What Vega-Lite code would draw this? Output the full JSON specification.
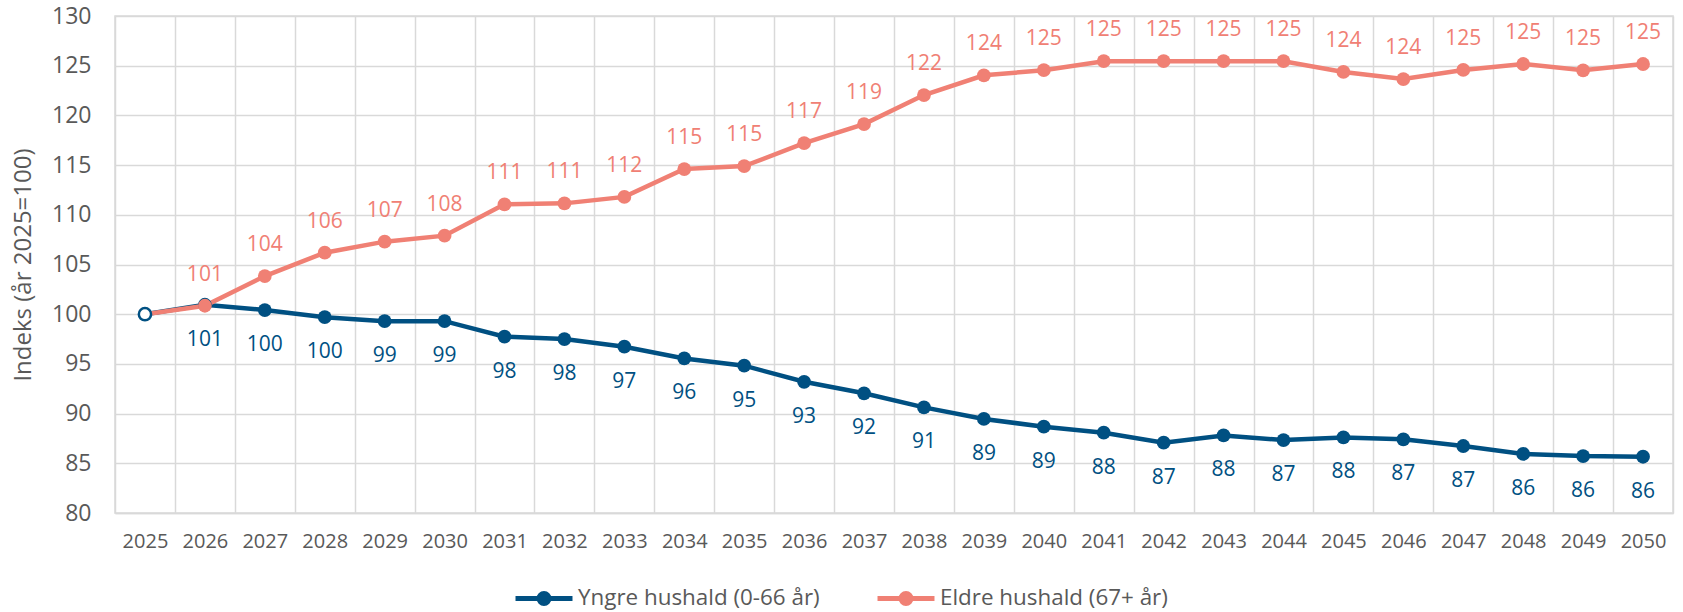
{
  "$schema": "https://vega.github.io/schema/vega-lite/v6.json",
  "width": 1558,
  "height": 497,
  "autosize": {"type": "none"},
  "padding": {"left": 115, "top": 16, "right": 10, "bottom": 99},
  "background": "white",
  "config": {
    "font": "Open Sans",
    "view": {"stroke": "#d9d9d9", "strokeWidth": 1.5},
    "axis": {"labelColor": "#595959", "titleColor": "#595959", "gridColor": "#d9d9d9", "gridWidth": 1.5, "labelFont": "Open Sans", "titleFont": "Open Sans"}
  },
  "data": {"values": [
    {"year": 2025, "serie": "Yngre hushald (0-66 år)", "value": 100},
    {"year": 2026, "serie": "Yngre hushald (0-66 år)", "value": 100.95},
    {"year": 2027, "serie": "Yngre hushald (0-66 år)", "value": 100.42},
    {"year": 2028, "serie": "Yngre hushald (0-66 år)", "value": 99.7},
    {"year": 2029, "serie": "Yngre hushald (0-66 år)", "value": 99.3},
    {"year": 2030, "serie": "Yngre hushald (0-66 år)", "value": 99.3},
    {"year": 2031, "serie": "Yngre hushald (0-66 år)", "value": 97.74},
    {"year": 2032, "serie": "Yngre hushald (0-66 år)", "value": 97.5},
    {"year": 2033, "serie": "Yngre hushald (0-66 år)", "value": 96.73},
    {"year": 2034, "serie": "Yngre hushald (0-66 år)", "value": 95.55},
    {"year": 2035, "serie": "Yngre hushald (0-66 år)", "value": 94.82},
    {"year": 2036, "serie": "Yngre hushald (0-66 år)", "value": 93.2},
    {"year": 2037, "serie": "Yngre hushald (0-66 år)", "value": 92.04},
    {"year": 2038, "serie": "Yngre hushald (0-66 år)", "value": 90.63},
    {"year": 2039, "serie": "Yngre hushald (0-66 år)", "value": 89.46},
    {"year": 2040, "serie": "Yngre hushald (0-66 år)", "value": 88.68},
    {"year": 2041, "serie": "Yngre hushald (0-66 år)", "value": 88.08},
    {"year": 2042, "serie": "Yngre hushald (0-66 år)", "value": 87.07},
    {"year": 2043, "serie": "Yngre hushald (0-66 år)", "value": 87.8},
    {"year": 2044, "serie": "Yngre hushald (0-66 år)", "value": 87.34},
    {"year": 2045, "serie": "Yngre hushald (0-66 år)", "value": 87.6},
    {"year": 2046, "serie": "Yngre hushald (0-66 år)", "value": 87.41},
    {"year": 2047, "serie": "Yngre hushald (0-66 år)", "value": 86.74},
    {"year": 2048, "serie": "Yngre hushald (0-66 år)", "value": 85.94},
    {"year": 2049, "serie": "Yngre hushald (0-66 år)", "value": 85.73},
    {"year": 2050, "serie": "Yngre hushald (0-66 år)", "value": 85.66},
    {"year": 2025, "serie": "Eldre hushald (67+ år)", "value": 100},
    {"year": 2026, "serie": "Eldre hushald (67+ år)", "value": 100.85},
    {"year": 2027, "serie": "Eldre hushald (67+ år)", "value": 103.84},
    {"year": 2028, "serie": "Eldre hushald (67+ år)", "value": 106.19},
    {"year": 2029, "serie": "Eldre hushald (67+ år)", "value": 107.3},
    {"year": 2030, "serie": "Eldre hushald (67+ år)", "value": 107.9},
    {"year": 2031, "serie": "Eldre hushald (67+ år)", "value": 111.05},
    {"year": 2032, "serie": "Eldre hushald (67+ år)", "value": 111.15},
    {"year": 2033, "serie": "Eldre hushald (67+ år)", "value": 111.8},
    {"year": 2034, "serie": "Eldre hushald (67+ år)", "value": 114.6},
    {"year": 2035, "serie": "Eldre hushald (67+ år)", "value": 114.9},
    {"year": 2036, "serie": "Eldre hushald (67+ år)", "value": 117.2},
    {"year": 2037, "serie": "Eldre hushald (67+ år)", "value": 119.13},
    {"year": 2038, "serie": "Eldre hushald (67+ år)", "value": 122.05},
    {"year": 2039, "serie": "Eldre hushald (67+ år)", "value": 124.03},
    {"year": 2040, "serie": "Eldre hushald (67+ år)", "value": 124.55},
    {"year": 2041, "serie": "Eldre hushald (67+ år)", "value": 125.45},
    {"year": 2042, "serie": "Eldre hushald (67+ år)", "value": 125.45},
    {"year": 2043, "serie": "Eldre hushald (67+ år)", "value": 125.45},
    {"year": 2044, "serie": "Eldre hushald (67+ år)", "value": 125.45},
    {"year": 2045, "serie": "Eldre hushald (67+ år)", "value": 124.37},
    {"year": 2046, "serie": "Eldre hushald (67+ år)", "value": 123.66},
    {"year": 2047, "serie": "Eldre hushald (67+ år)", "value": 124.57},
    {"year": 2048, "serie": "Eldre hushald (67+ år)", "value": 125.17},
    {"year": 2049, "serie": "Eldre hushald (67+ år)", "value": 124.54},
    {"year": 2050, "serie": "Eldre hushald (67+ år)", "value": 125.17}
  ]},
  "encoding": {
    "x": {
      "field": "year", "type": "ordinal",
      "scale": {"type": "band", "paddingInner": 0, "paddingOuter": 0},
      "axis": {"title": null, "labelAngle": 0, "labelFontSize": 20, "labelPadding": 18, "tickBand": "extent", "ticks": false, "domainColor": "#d9d9d9", "domainWidth": 1.5, "grid": true}
    },
    "y": {
      "field": "value", "type": "quantitative",
      "scale": {"domain": [80, 130], "nice": false, "zero": false},
      "axis": {"title": "Indeks (år 2025=100)", "values": [80, 85, 90, 95, 100, 105, 110, 115, 120, 125, 130], "labelFontSize": 23, "labelPadding": 24, "ticks": false, "domain": false, "titleFontSize": 24, "titleFontWeight": "normal", "titlePadding": 16}
    }
  },
  "layer": [
    {
      "mark": {"type": "line", "strokeWidth": 4.5},
      "encoding": {
        "color": {
          "field": "serie", "type": "nominal",
          "scale": {"domain": ["Yngre hushald (0-66 år)", "Eldre hushald (67+ år)"], "range": ["#005082", "#F08074"]},
          "legend": {
            "title": null, "orient": "none", "direction": "horizontal", "legendX": 412, "legendY": 565,
            "labelFontSize": 22.4, "labelColor": "#595959", "labelFont": "Open Sans", "labelLimit": 500,
            "symbolType": "M-2,0H2M-0.351,0A0.351,0.351 0 1,0 0.351,0A0.351,0.351 0 1,0 -0.351,0Z",
            "symbolSize": 812, "symbolStrokeWidth": 5, "labelOffset": 17, "columnPadding": 47,
            "encode": {"symbols": {"update": {
              "shape": {"value": "M-2,0H2M-0.351,0A0.351,0.351 0 1,0 0.351,0A0.351,0.351 0 1,0 -0.351,0Z"},
              "size": {"value": 812},
              "strokeWidth": {"value": 5},
              "opacity": {"value": 1}
            }}}
          }
        }
      }
    },
    {
      "transform": [{"filter": "datum.year != 2025"}],
      "mark": {"type": "point", "filled": true, "size": 190, "opacity": 1},
      "encoding": {
        "color": {"field": "serie", "type": "nominal"}
      }
    },
    {
      "transform": [{"filter": "datum.year == 2025 && datum.serie == 'Yngre hushald (0-66 år)'"}],
      "mark": {"type": "point", "filled": false, "fill": "white", "stroke": "#005082", "strokeWidth": 2.5, "size": 150, "opacity": 1}
    },
    {
      "transform": [{"filter": "datum.year != 2025 && datum.serie == 'Eldre hushald (67+ år)'"}],
      "mark": {"type": "text", "dy": -31, "fontSize": 21, "color": "#F08074", "baseline": "middle"},
      "encoding": {"text": {"field": "value", "type": "quantitative", "format": ".0f"}}
    },
    {
      "transform": [{"filter": "datum.year != 2025 && datum.serie == 'Yngre hushald (0-66 år)'"}],
      "mark": {"type": "text", "dy": 35, "fontSize": 21, "color": "#005082", "baseline": "middle"},
      "encoding": {"text": {"field": "value", "type": "quantitative", "format": ".0f"}}
    }
  ]
}
